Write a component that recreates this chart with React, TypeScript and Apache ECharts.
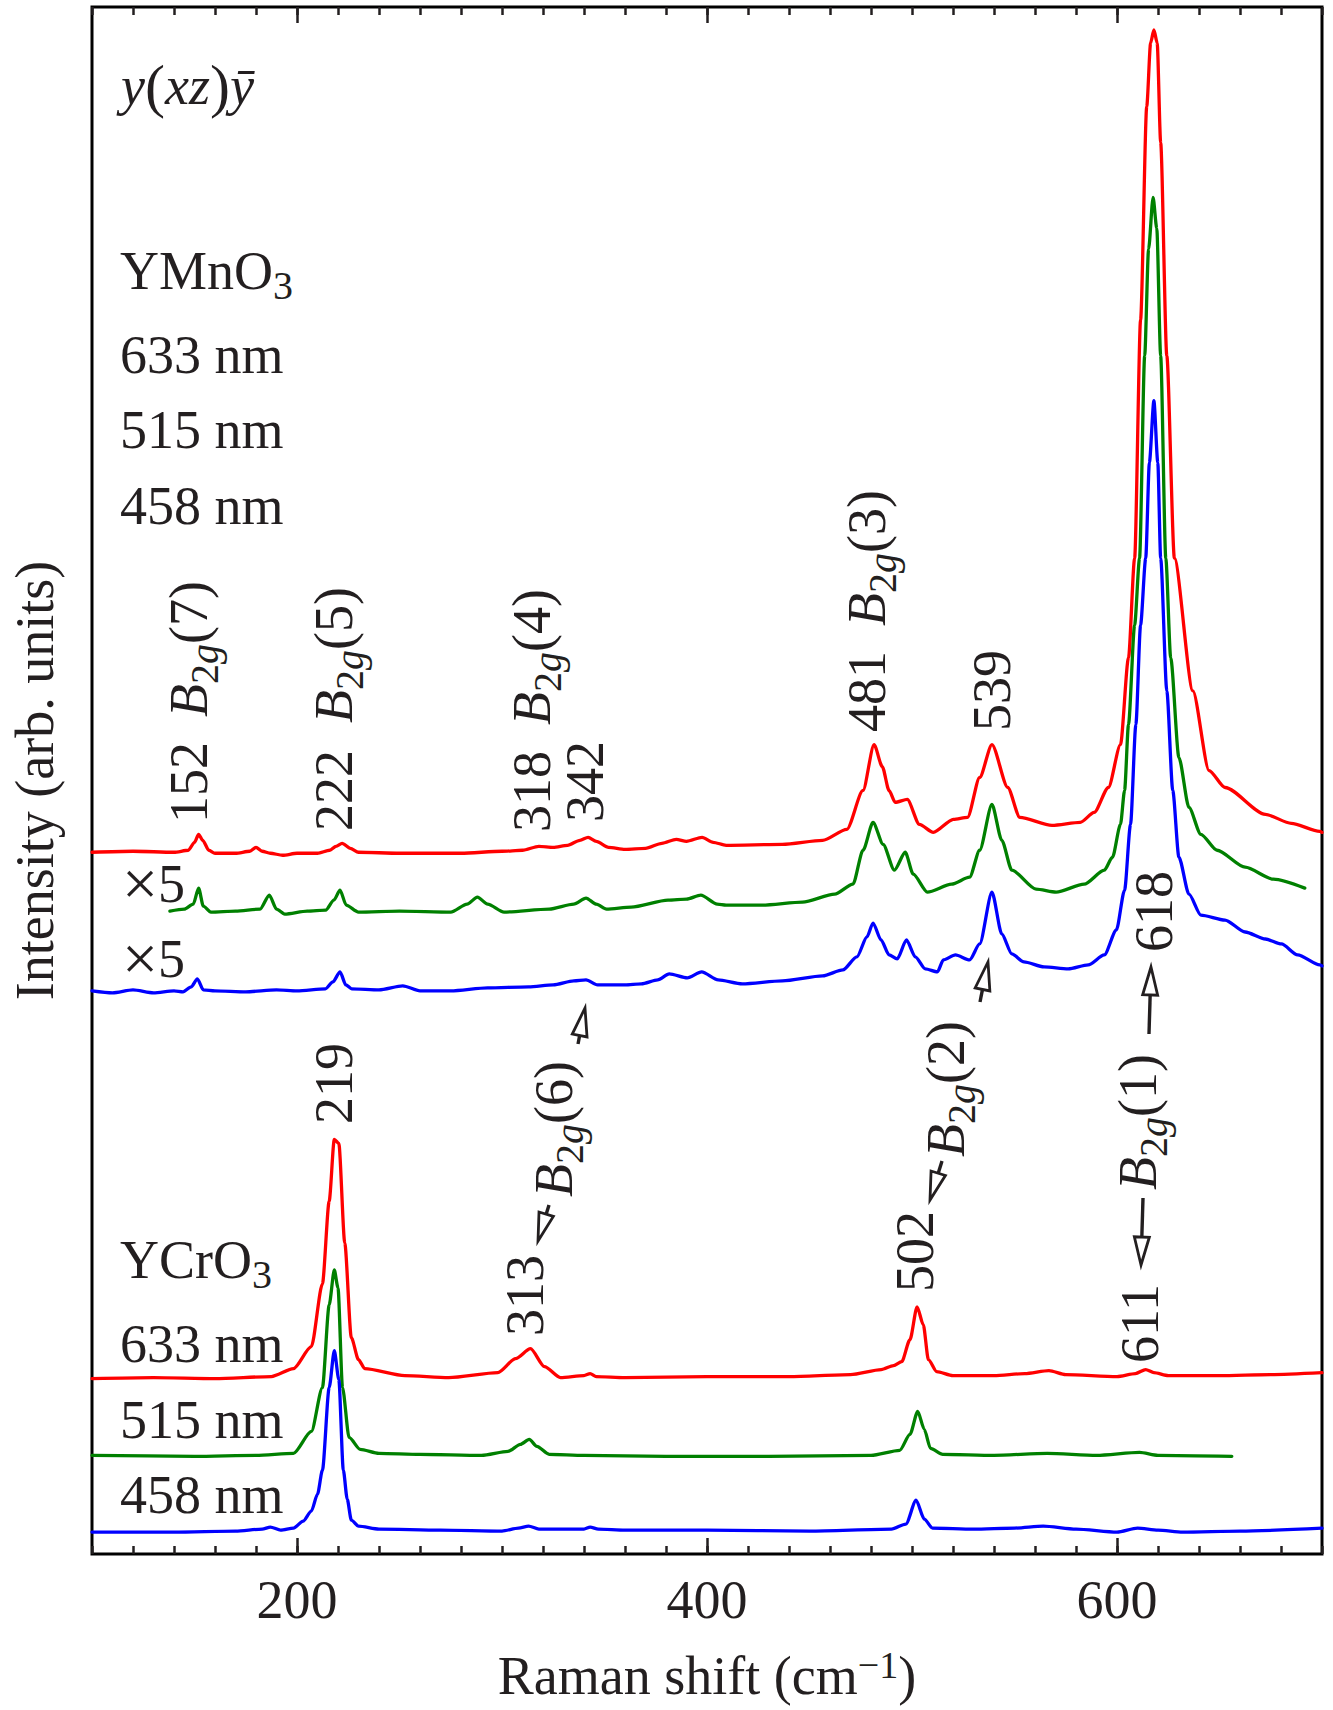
import React, { useEffect, useRef } from "react";
import * as echarts from "echarts";

const FONT = '"Liberation Serif", "Times New Roman", Times, serif';
const INK = "#231f20";

// ---------- axes ----------
const xMin = 100;
const xMax = 700;
const yMin = 0;
const yMax = 1552;
const majorTicks = [200, 400, 600];
const minorStep = 20;

// ---------- YMnO3 spectra (x: Raman shift cm^-1, y: arb. units incl. offset) ----------
const ymno3_633: [number, number][] = [
  [100, 704], [120, 705], [140, 704], [147, 706], [150, 714], [152, 722], [154, 716], [157, 706], [160, 703],
  [170, 703], [177, 705], [180, 709], [183, 705], [187, 703], [193, 701], [200, 703], [210, 703], [216, 706],
  [219, 710], [222, 713], [226, 708], [230, 704], [250, 703], [280, 703], [300, 705], [310, 706], [318, 710],
  [325, 709], [332, 711], [338, 716], [342, 719], [346, 715], [352, 709], [360, 707], [370, 708], [378, 713],
  [385, 717], [390, 715], [397.6, 719], [403, 714], [409.3, 711], [436.8, 712], [456.4, 716], [468.2, 727],
  [476.1, 766], [481.5, 812], [485.5, 790], [488.8, 766], [491.8, 754], [497.7, 757], [503.6, 732], [510.4, 724],
  [520.2, 737], [527.1, 739], [533, 779], [539, 812], [546.7, 769], [552.6, 739], [568.3, 731], [582.1, 734],
  [588.9, 744], [595.8, 769], [601.7, 812], [605.6, 899], [608.6, 999], [611.5, 1238], [614.5, 1452],
  [616.4, 1516], [618, 1529], [619.6, 1516], [621.3, 1416], [624.3, 1202], [628, 999], [637, 866], [644.9, 786],
  [652.7, 769], [672.4, 742], [685, 733], [698.9, 725], [700, 724],
];
const ymno3_515: [number, number][] = [
  [138, 645], [145, 647], [149.4, 652], [152, 668], [154.3, 650], [158, 644], [170, 645], [182, 647],
  [186.5, 661], [190, 647], [194, 642], [205, 645], [214, 646], [218, 656], [221, 666], [224, 651], [230, 644],
  [250, 645], [275, 644], [283, 652], [288, 659], [293, 652], [301, 644], [323, 647], [335, 652], [341, 658],
  [346, 652], [351, 647], [363, 649], [381, 656], [390, 657], [397, 661], [405, 652], [409.3, 651], [427, 651],
  [446.6, 654], [462.3, 662], [471.2, 672], [476.1, 706], [481, 734], [485.9, 712], [491.4, 686], [496.7, 704],
  [500.6, 682], [507.5, 664], [519.3, 672], [528.1, 679], [533, 706], [539, 752], [543.8, 716], [548.7, 686],
  [560.5, 667], [570.3, 664], [584, 672], [593.8, 686], [597.8, 699], [601.7, 732], [603.7, 766], [605.6, 832],
  [608.6, 932], [611, 999], [613.5, 1202], [615.4, 1309], [617.6, 1361], [619.4, 1330], [621.3, 1202],
  [623.8, 999], [626.2, 899], [630.2, 799], [635.1, 749], [640.9, 722], [648.8, 706], [662.5, 689],
  [676.3, 677], [691.6, 668],
];
const ymno3_458: [number, number][] = [
  [100, 565], [110, 563], [120, 566], [130, 563], [140, 565], [144.4, 564], [148.4, 569], [151.4, 577],
  [154.3, 566], [160, 565], [175, 564], [190, 566], [200, 565], [213.9, 567], [217.5, 574], [221, 584],
  [223.8, 571], [226.7, 567], [240, 566], [251.6, 570], [260, 565], [275, 565], [293, 568], [313, 569],
  [325, 571], [335, 575], [341, 576], [346.6, 571], [360, 571], [368, 572], [376, 576], [381.6, 582],
  [390.4, 578], [397.4, 584], [405.4, 576], [417.2, 572], [436.8, 575], [456.4, 580], [466.3, 586],
  [473.1, 599], [478, 619], [481, 633], [484.9, 616], [488.8, 601], [492.8, 597], [497.3, 616], [501.6, 599],
  [506.5, 587], [512.4, 584], [515.3, 596], [521.2, 601], [528.1, 596], [533, 612], [539, 664], [543.8, 622],
  [548.7, 602], [554.6, 594], [564.4, 589], [576.2, 587], [586, 591], [593.8, 601], [599.7, 626], [603.7, 666],
  [606.6, 732], [609.2, 832], [611.5, 932], [614, 999], [615.8, 1095], [618, 1157], [619.9, 1095],
  [621.3, 999], [624.3, 866], [627.2, 766], [630.2, 699], [635.1, 662], [640.9, 641], [652.7, 636],
  [662.5, 624], [672.4, 617], [680.2, 612], [688.1, 601], [698.9, 591], [700, 590],
];

// ---------- YCrO3 spectra ----------
const ycro3_633: [number, number][] = [
  [100, 176], [130, 177], [160, 176], [187.5, 178], [198.3, 186], [207, 208], [212.4, 271], [215.7, 354],
  [218.2, 416], [220.4, 412], [223.3, 312], [226.5, 217], [230, 195], [233, 186], [252.6, 179], [274, 177],
  [298, 182], [306.6, 196], [313.9, 206], [320.7, 188], [328.5, 177], [340, 179], [343, 181], [346, 178],
  [360, 177], [400, 178], [440, 178], [470, 180], [485, 185], [491, 189], [495, 193], [499, 215], [502.5, 248],
  [505.5, 230], [508, 195], [512, 183], [520, 179], [540, 179], [555, 181], [566.8, 184], [575, 180],
  [600, 178], [609, 181], [614, 185], [618, 182], [625, 179], [650, 179], [675, 180], [700, 182],
];
const ycro3_515: [number, number][] = [
  [100, 99], [150, 98], [180, 99], [198.3, 101], [207, 123], [212.4, 167], [215.7, 250], [218.2, 285],
  [220, 267], [222.2, 167], [225.4, 117], [230.8, 105], [240, 101], [260, 100], [290, 99], [303, 103],
  [309, 110], [313.3, 115], [317, 108], [323, 100], [340, 99], [380, 98], [430, 98], [480, 99], [494, 104],
  [499, 120], [502.8, 143], [506, 125], [509, 106], [515, 100], [540, 99], [566, 101], [590, 99], [611, 102],
  [620, 99], [656, 98],
];
const ycro3_458: [number, number][] = [
  [100, 22], [140, 22], [170, 23], [183, 25], [187, 27], [192, 24], [198.3, 26], [203, 33], [207, 43],
  [210, 60], [212.4, 84], [215.7, 167], [218.2, 204], [220.4, 175], [222.6, 84], [224.5, 55], [226.5, 34],
  [230, 28], [240, 25], [270, 24], [300, 23], [308, 26], [313, 28], [318, 25], [340, 25], [343, 27], [347, 25],
  [360, 24], [400, 24], [450, 23], [490, 25], [497, 30], [502, 54], [506, 35], [510, 26], [530, 25], [550, 26],
  [564, 28], [580, 25], [600, 22], [610, 26], [620, 24], [632, 22], [660, 23], [700, 26],
];

const seriesList = [
  { name: "YMnO3 633 nm", data: ymno3_633, color: "#ff0000" },
  { name: "YMnO3 515 nm", data: ymno3_515, color: "#008000" },
  { name: "YMnO3 458 nm", data: ymno3_458, color: "#0000ff" },
  { name: "YCrO3 633 nm", data: ycro3_633, color: "#ff0000" },
  { name: "YCrO3 515 nm", data: ycro3_515, color: "#008000" },
  { name: "YCrO3 458 nm", data: ycro3_458, color: "#0000ff" },
];

// ---------- text layout ----------
const FS = 54;
const CENTRAL = 0.3375 * FS;
const LH = 70;

const rich = {
  it: { fontStyle: "italic", fontSize: FS, fontFamily: FONT, fill: INK, lineHeight: LH },
  rm: { fontSize: FS, fontFamily: FONT, fill: INK, lineHeight: LH },
  par: { fontSize: 60, fontFamily: FONT, fill: INK, lineHeight: LH },
  times: { fontSize: 64, fontFamily: FONT, fill: INK, lineHeight: LH },
  sub: { fontSize: 40, fontFamily: FONT, fill: INK, lineHeight: 40, verticalAlign: "bottom" },
  subit: { fontSize: 40, fontFamily: FONT, fontStyle: "italic", fill: INK, lineHeight: 40, verticalAlign: "bottom" },
};

const bLabel = (n: number) => `{it|B}{sub|2}{subit|g}{rm|(${n})}`;

const hLabels: { t: string; x: number; base: number }[] = [
  { t: "{it|y}{par|(}{it|xz}{par|)}{it|ȳ}", x: 121, base: 104 },
  { t: "{rm|YMnO}{sub|3}", x: 120, base: 289 },
  { t: "{rm|633 nm}", x: 120, base: 373 },
  { t: "{rm|515 nm}", x: 120, base: 448 },
  { t: "{rm|458 nm}", x: 120, base: 524 },
  { t: "{times|×}{rm|5}", x: 122, base: 902 },
  { t: "{times|×}{rm|5}", x: 122, base: 977 },
  { t: "{rm|YCrO}{sub|3}", x: 120, base: 1278 },
  { t: "{rm|633 nm}", x: 120, base: 1362 },
  { t: "{rm|515 nm}", x: 120, base: 1438 },
  { t: "{rm|458 nm}", x: 120, base: 1513 },
];

// rotated (reading upward): cx = column centre, y0 = start (bottom) of text
const vLabels: { t: string; cx: number; y0: number }[] = [
  { t: "{rm|152}", cx: 189, y0: 823 },
  { t: bLabel(7), cx: 189, y0: 717 },
  { t: "{rm|222}", cx: 334, y0: 831 },
  { t: bLabel(5), cx: 334, y0: 723 },
  { t: "{rm|318}", cx: 532, y0: 832 },
  { t: bLabel(4), cx: 532, y0: 725 },
  { t: "{rm|342}", cx: 585, y0: 822 },
  { t: "{rm|481}", cx: 867, y0: 732 },
  { t: bLabel(3), cx: 867, y0: 626 },
  { t: "{rm|539}", cx: 992, y0: 731 },
  { t: "{rm|618}", cx: 1154, y0: 952 },
  { t: bLabel(1), cx: 1138, y0: 1190 },
  { t: "{rm|611}", cx: 1140, y0: 1363 },
  { t: "{rm|219}", cx: 334, y0: 1124 },
  { t: "{rm|313}", cx: 525, y0: 1336 },
  { t: bLabel(6), cx: 554, y0: 1197 },
  { t: "{rm|502}", cx: 915, y0: 1292 },
  { t: bLabel(2), cx: 946, y0: 1157 },
];

const arrows: { tail: [number, number]; tip: [number, number] }[] = [
  { tail: [578, 1044], tip: [585, 1008] },
  { tail: [549, 1205], tip: [538, 1241] },
  { tail: [980, 1002], tip: [988, 962] },
  { tail: [942, 1161], tip: [930, 1200] },
  { tail: [1149, 1034], tip: [1151, 967] },
  { tail: [1143, 1198], tip: [1141, 1265] },
];

function arrowGraphics(tail: [number, number], tip: [number, number]) {
  const headLen = 28;
  const halfW = 7.5;
  const dx = tip[0] - tail[0];
  const dy = tip[1] - tail[1];
  const L = Math.hypot(dx, dy);
  const ux = dx / L;
  const uy = dy / L;
  const bx = tip[0] - ux * headLen;
  const by = tip[1] - uy * headLen;
  const px = -uy;
  const py = ux;
  return [
    {
      type: "line",
      z: 100,
      shape: { x1: tail[0], y1: tail[1], x2: bx, y2: by },
      style: { stroke: INK, lineWidth: 3.4 },
    },
    {
      type: "polygon",
      z: 101,
      shape: {
        points: [
          [tip[0], tip[1]],
          [bx + px * halfW, by + py * halfW],
          [bx - px * halfW, by - py * halfW],
        ],
      },
      style: { fill: "#ffffff", stroke: INK, lineWidth: 2.8, lineJoin: "miter" },
    },
  ];
}

function buildOption() {
  const tickLine = { color: INK, width: 2.5 };
  const xBase = {
    type: "value",
    min: xMin,
    max: xMax,
    gridIndex: 0,
    splitLine: { show: false },
    axisLine: { show: false },
  };
  const graphics: any[] = [];
  hLabels.forEach((l) => {
    graphics.push({
      type: "text",
      x: l.x,
      y: l.base - CENTRAL,
      z: 100,
      style: {
        text: l.t,
        fontSize: FS,
        fontFamily: FONT,
        fill: INK,
        lineHeight: LH,
        align: "left",
        verticalAlign: "middle",
        rich,
      },
    });
  });
  vLabels.forEach((l) => {
    graphics.push({
      type: "text",
      x: l.cx,
      y: l.y0,
      rotation: Math.PI / 2,
      z: 100,
      style: {
        text: l.t,
        fontSize: FS,
        fontFamily: FONT,
        fill: INK,
        lineHeight: LH,
        align: "left",
        verticalAlign: "middle",
        rich,
      },
    });
  });
  arrows.forEach((a) => graphics.push(...arrowGraphics(a.tail, a.tip)));

  return {
    animation: false,
    backgroundColor: "#ffffff",
    textStyle: { fontFamily: FONT },
    grid: {
      left: 88,
      right: 11,
      top: 7,
      bottom: 151,
      show: true,
      borderColor: "#000000",
      borderWidth: 3,
      backgroundColor: "transparent",
    },
    xAxis: [
      {
        ...xBase,
        position: "bottom",
        interval: minorStep,
        axisTick: { show: true, inside: true, length: 8, lineStyle: tickLine },
        axisLabel: {
          show: true,
          customValues: majorTicks,
          margin: 19,
          fontSize: FS,
          fontFamily: FONT,
          color: INK,
          lineHeight: FS,
        },
        name: "Raman shift (cm{sup|−1})",
        nameLocation: "middle",
        nameGap: 92,
        nameTextStyle: {
          fontSize: FS,
          fontFamily: FONT,
          color: INK,
          lineHeight: 59,
          rich: {
            sup: { fontSize: 38, fontFamily: FONT, color: INK, lineHeight: 38, verticalAlign: "top" },
          },
        },
      },
      {
        ...xBase,
        position: "bottom",
        axisTick: { show: true, inside: true, length: 16, customValues: majorTicks, lineStyle: tickLine },
        axisLabel: { show: false },
      },
      {
        ...xBase,
        position: "top",
        interval: minorStep,
        axisTick: { show: true, inside: true, length: 8, lineStyle: tickLine },
        axisLabel: { show: false },
      },
      {
        ...xBase,
        position: "top",
        axisTick: { show: true, inside: true, length: 16, customValues: majorTicks, lineStyle: tickLine },
        axisLabel: { show: false },
      },
    ],
    yAxis: [
      {
        type: "value",
        min: yMin,
        max: yMax,
        position: "left",
        axisLine: { show: false },
        axisTick: { show: false },
        axisLabel: { show: false },
        splitLine: { show: false },
        name: "Intensity (arb. units)",
        nameLocation: "middle",
        nameRotate: 90,
        nameGap: 30,
        nameTextStyle: { fontSize: FS, fontFamily: FONT, color: INK, lineHeight: FS },
      },
    ],
    series: seriesList.map((s) => ({
      type: "line",
      name: s.name,
      xAxisIndex: 0,
      yAxisIndex: 0,
      data: s.data,
      showSymbol: false,
      symbol: "none",
      smooth: 0.25,
      smoothMonotone: "x",
      lineStyle: { color: s.color, width: 3.3, join: "round", cap: "round" },
      itemStyle: { color: s.color },
      emphasis: { disabled: true },
      silent: true,
    })),
    graphic: graphics,
  };
}

export default function App() {
  const ref = useRef<HTMLDivElement>(null);
  useEffect(() => {
    if (!ref.current) return;
    const chart = echarts.init(ref.current, null, { renderer: "svg" });
    chart.setOption(buildOption() as any);
    return () => chart.dispose();
  }, []);
  return (
    <div
      ref={ref}
      style={{ position: "absolute", left: 0, top: 0, width: 1333, height: 1710, background: "#fff" }}
    />
  );
}
